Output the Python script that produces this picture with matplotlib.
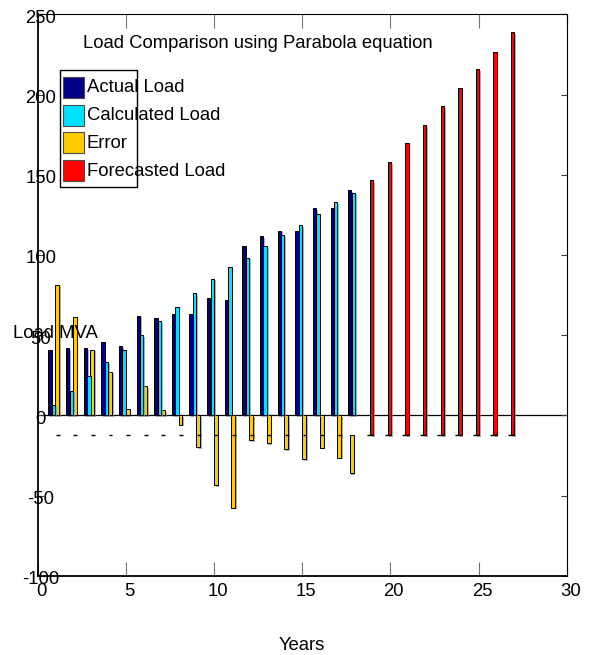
import matplotlib
matplotlib.use("Agg")
import matplotlib.pyplot as plt
import matplotlib.patheffects as pe
import matplotlib.transforms as mtransforms
from matplotlib.patches import Rectangle

plt.rcParams["font.family"] = ["Liberation Sans", "DejaVu Sans"]
plt.rcParams["axes.unicode_minus"] = False
FS = 13.3

# load history (MVA) and parabola fit
years = list(range(1, 19))
actual_load = [40.4, 41.9, 41.9, 45.4, 42.9, 62.1, 60.4, 63.1, 63.2, 73.1,
               72.1, 105.4, 111.5, 115.2, 115.2, 129.2, 129.2, 140.4]
calculated_load = [6.7, 15.4, 24.4, 33.1, 41.0, 49.8, 58.5, 67.3, 76.2, 85.2,
                   92.3, 98.3, 105.4, 112.5, 118.7, 125.6, 132.7, 138.7]
error = [81.5, 61.3, 41.0, 27.1, 4.0, 18.3, 3.0, -5.8, -19.8, -43.5,
         -57.6, -15.4, -17.5, -21.0, -27.5, -20.2, -26.5, -36.0]

forecast_years = list(range(19, 28))
forecast_load = [146.7, 157.7, 169.8, 180.8, 192.6, 203.9, 215.7, 226.7, 238.8]

labels = ["Actual Load", "Calculated Load", "Error", "Forecasted Load"]
colors = ["#000088", "#00E0FF", "#FFCC00", "#FF0000"]

W, H = 589, 655
fig = plt.figure(figsize=(W / 100, H / 100), dpi=100)
ax = fig.add_axes([37.7 / W, 1 - 575.7 / H, 529 / W, 561.4 / H])


def px(x, y):
    return x / W, 1 - y / H


shadow = [pe.SimplePatchShadow(offset=(1.2, -1.2), shadow_rgbFace="0.55", alpha=0.7), pe.Normal()]
bw = 0.19
base = -12.5  # baseline of the forecast series

ax.bar([y - 0.3 for y in years], actual_load, width=bw, color=colors[0],
       edgecolor="k", linewidth=0.7, path_effects=shadow, zorder=3)
ax.bar([y - 0.1 for y in years], calculated_load, width=bw, color=colors[1],
       edgecolor="k", linewidth=0.7, path_effects=shadow, zorder=3)

# error bars; the last one hangs off the forecast baseline
err_x = [y + 0.1 for y in years[:-1]] + [years[-1] - 0.2]
err_bottom = [0] * (len(years) - 1) + [base]
err_h = [e - b for e, b in zip(error, err_bottom)]
ax.bar(err_x, err_h, bottom=err_bottom, width=0.22, color=colors[2],
       edgecolor="k", linewidth=0.7, path_effects=shadow, zorder=2)

# empty forecast slots show up as short dashes on the baseline
ax.hlines([base] * (len(years) - 1), [y + 0.02 for y in years[:-1]],
          [y + 0.24 for y in years[:-1]], color="k", linewidth=1.0, zorder=4)

ax.bar([y - 0.06 for y in forecast_years], [f - base for f in forecast_load],
       bottom=base, width=bw, color=colors[3], edgecolor="k", linewidth=0.7,
       path_effects=shadow, zorder=3)
ax.hlines([base] * len(forecast_years), [y - 0.33 for y in forecast_years],
          [y + 0.03 for y in forecast_years], color="k", linewidth=1.0, zorder=4)

ax.axhline(0, color="k", linewidth=0.9, zorder=1)

ax.set_xlim(0, 30)
ax.set_ylim(-100, 250)
ax.set_xticks(range(0, 31, 5))
ax.set_yticks(range(-100, 251, 50))
ax.tick_params(axis="x", which="both", direction="in", length=10, width=0.8,
               color="0.45", top=True, bottom=True, labelsize=FS, pad=5)
ax.tick_params(axis="y", which="both", direction="in", length=4.3, width=0.8,
               color="0.25", left=True, right=True, labelsize=FS, pad=-2.2)
for lab in ax.get_yticklabels():
    lab.set_horizontalalignment("center")
shift_x = mtransforms.ScaledTranslation(3.5 / 100, 0, fig.dpi_scale_trans)
for lab in ax.get_xticklabels():
    lab.set_transform(lab.get_transform() + shift_x)
shift_y = mtransforms.ScaledTranslation(0, -2 / 100, fig.dpi_scale_trans)
for lab in ax.get_yticklabels():
    lab.set_transform(lab.get_transform() + shift_y)

for side in ["left", "bottom"]:
    ax.spines[side].set_linewidth(1.3)
for side in ["top", "right"]:
    ax.spines[side].set_linewidth(0.8)

fig.text(*px(83, 44), "Load Comparison using Parabola equation", fontsize=FS,
         ha="left", va="center")
fig.text(*px(12.7, 334), "Load MVA", fontsize=FS, ha="left", va="center")
fig.text(*px(302, 645), "Years", fontsize=FS, ha="center", va="center")

# legend box drawn by hand (text runs past the frame)
fig.add_artist(Rectangle(px(60, 187), 77 / W, 117 / H, transform=fig.transFigure,
                         facecolor="white", edgecolor="k", linewidth=1.0, zorder=5))
row_tops = [77, 105, 132, 160]
for top, lab, c in zip(row_tops, labels, colors):
    fig.add_artist(Rectangle(px(63, top + 21), 21 / W, 21 / H, transform=fig.transFigure,
                             facecolor=c, edgecolor="0.3", linewidth=0.8, zorder=6))
    fig.text(*px(87, top + 11), lab, fontsize=FS, ha="left", va="center", zorder=7)

fig.savefig("out.png", dpi=100)
